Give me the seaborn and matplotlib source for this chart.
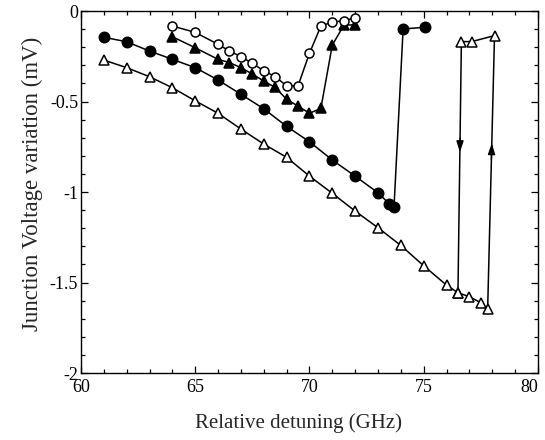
import numpy as np
import pandas as pd
import matplotlib
matplotlib.use("Agg")
import matplotlib.pyplot as plt
from matplotlib.ticker import MultipleLocator, FuncFormatter
import seaborn as sns

# Detuning sweeps (GHz) and junction voltage variation (mV)
det_open_circ = [64.0, 65.0, 66.0, 66.5, 67.0, 67.5, 68.0, 68.5, 69.0, 69.5,
                 70.0, 70.5, 71.0, 71.5, 72.0]
v_open_circ = [-0.083, -0.118, -0.184, -0.221, -0.252, -0.289, -0.330, -0.363,
               -0.413, -0.413, -0.234, -0.083, -0.061, -0.054, -0.037]

det_fill_tri = [64.0, 65.0, 66.0, 66.5, 67.0, 67.5, 68.0, 68.5, 69.0, 69.5,
                70.0, 70.5, 71.0, 71.5, 72.0]
v_fill_tri = [-0.142, -0.203, -0.267, -0.285, -0.313, -0.348, -0.387, -0.422,
              -0.488, -0.525, -0.565, -0.538, -0.188, -0.080, -0.075]

det_fill_circ = [61, 62, 63, 64, 65, 66, 67, 68, 69, 70, 71, 72, 73, 73.5,
                 73.7, 74.1, 75.05]
v_fill_circ = [-0.145, -0.170, -0.221, -0.267, -0.313, -0.381, -0.460, -0.540,
               -0.637, -0.722, -0.823, -0.912, -1.004, -1.066, -1.085, -0.099,
               -0.090]

# Hysteresis loop: up-sweep on the lower branch, jump, then down-sweep
det_open_tri = [61, 62, 63, 64, 65, 66, 67, 68, 69, 70, 71, 72, 73, 74, 75, 76,
                76.5, 77, 77.5, 77.8, 78.1, 77.1, 76.65, 76.5]
v_open_tri = [-0.271, -0.313, -0.363, -0.424, -0.496, -0.565, -0.652, -0.735,
              -0.808, -0.912, -1.007, -1.105, -1.197, -1.295, -1.407, -1.514,
              -1.556, -1.578, -1.611, -1.646, -0.136, -0.169, -0.169, -1.556]

x_ticks = [60, 65, 70, 75, 80]
y_ticks = [0, -0.5, -1, -1.5, -2]

sns.set_theme(style="ticks")
plt.rcParams["font.family"] = ["Liberation Serif", "DejaVu Serif"]
plt.rcParams["axes.linewidth"] = 1.0

fig = plt.figure(figsize=(5.45, 4.4), dpi=100)
ax = fig.add_axes([0.1486, 0.152, 0.8384, 0.823])

series = [
    (det_open_tri, v_open_tri, "^", "white", 6.5),
    (det_fill_circ, v_fill_circ, "o", "black", 7.5),
    (det_fill_tri, v_fill_tri, "^", "black", 6.5),
    (det_open_circ, v_open_circ, "o", "white", 6.5),
]
for xs, ys, mk, face, ms in series:
    df = pd.DataFrame({"det": xs, "v": ys})
    sns.lineplot(data=df, x="det", y="v", sort=False, estimator=None, ax=ax,
                 color="black", lw=1.1, marker=mk, markersize=ms,
                 markerfacecolor=face, markeredgecolor="black",
                 markeredgewidth=1.1)


def x_on_segment(p, q, y):
    (x0, y0), (x1, y1) = p, q
    return x0 + (x1 - x0) * (y - y0) / (y1 - y0)


# Direction arrows on the two jump segments of the loop
pts = list(zip(det_open_tri, v_open_tri))
down_seg = (pts[22], pts[23])
up_seg = (pts[19], pts[20])
for seg, y_tail, y_head in [(down_seg, -0.70, -0.78), (up_seg, -0.82, -0.73)]:
    ax.annotate("", xy=(x_on_segment(*seg, y_head), y_head),
                xytext=(x_on_segment(*seg, y_tail), y_tail),
                arrowprops=dict(arrowstyle="-|>,head_length=0.55,head_width=0.18",
                                color="black", lw=1.0, shrinkA=0, shrinkB=0))

ax.set_xlim(60, 80)
ax.set_ylim(-2, 0)
ax.set_xticks(x_ticks)
ax.set_yticks(y_ticks)
ax.xaxis.set_minor_locator(MultipleLocator(1))
ax.yaxis.set_minor_locator(MultipleLocator(0.1))
ax.yaxis.set_major_formatter(FuncFormatter(lambda v, _: f"{v:g}".replace("\u2212", "-")))
ax.tick_params(which="both", direction="in", top=True, right=True,
               labelsize=13, colors="black", width=0.9)
ax.tick_params(which="major", length=5)
ax.tick_params(axis="y", which="major", pad=2)
ax.tick_params(axis="x", which="major", pad=4)
ax.tick_params(which="minor", length=3)
for s in ax.spines.values():
    s.set_color("black")

# keep the last x label inside the figure edge
fig.canvas.draw()
xlabels = ax.get_xticklabels()
xlabels[-1].set_horizontalalignment("right")

ax.set_xlabel("Relative detuning (GHz)", fontsize=15)
ax.set_ylabel("Junction Voltage variation (mV)", fontsize=16.5)
ax.xaxis.set_label_coords(0.475, -0.11)
ax.yaxis.set_label_coords(-0.083, 0.523)

fig.savefig("out.png", dpi=100, facecolor="white")
